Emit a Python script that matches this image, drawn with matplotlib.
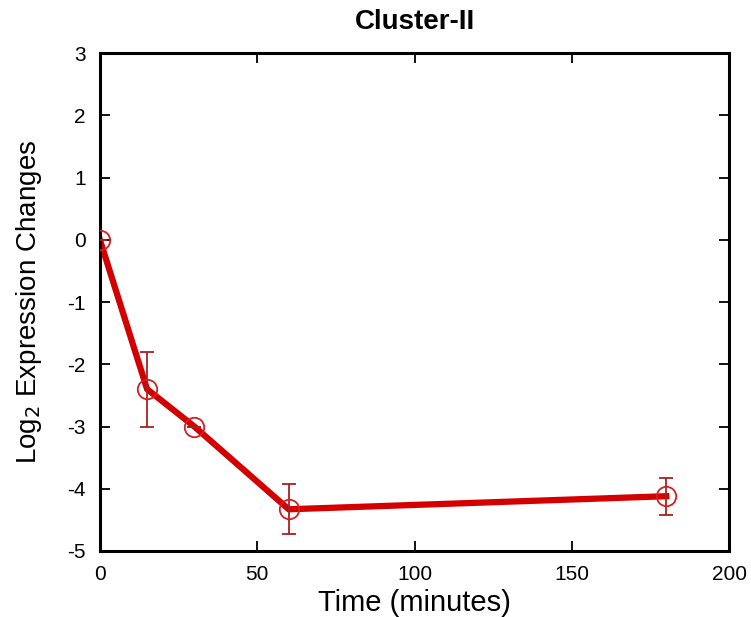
import matplotlib
matplotlib.use("Agg")
import matplotlib.pyplot as plt

# Cluster-II expression profile
time_min = [0, 15, 30, 60, 180]
log2_change = [0.0, -2.4, -3.0, -4.33, -4.12]
err = [0.0, 0.6, 0.0, 0.4, 0.3]

plt.rcParams['font.family'] = ['Liberation Sans', 'DejaVu Sans']
plt.rcParams['axes.unicode_minus'] = False

fig = plt.figure(figsize=(7.51, 6.17), dpi=100)
ax = fig.add_axes([0.133, 0.107, 0.838, 0.807])

ax.plot(time_min, log2_change, color='#d40000', linewidth=4.5, zorder=2)
ax.errorbar(time_min, log2_change, yerr=err, fmt='none', ecolor='#a82020',
            elinewidth=1.3, capsize=5, capthick=1.3, zorder=3)
ax.plot(time_min, log2_change, linestyle='none', marker='o', markersize=14,
        markerfacecolor='none', markeredgecolor='#d42020', markeredgewidth=1.3, zorder=4)

ax.set_xlim(0, 200)
ax.set_ylim(-5, 3)
ax.set_xticks([0, 50, 100, 150, 200])
ax.set_yticks(range(-5, 4))
ax.tick_params(direction='in', top=True, right=True, length=7, width=1.3, labelsize=15, pad=10)
for s in ax.spines.values():
    s.set_linewidth(2.2)

ax.set_xlabel('Time (minutes)', fontsize=21, labelpad=4)
ax.set_ylabel('Log$_2$ Expression Changes', fontsize=20, labelpad=17)
ax.set_title('Cluster-II', fontsize=20, fontweight='bold', pad=17)

fig.savefig('out.png', dpi=100)
